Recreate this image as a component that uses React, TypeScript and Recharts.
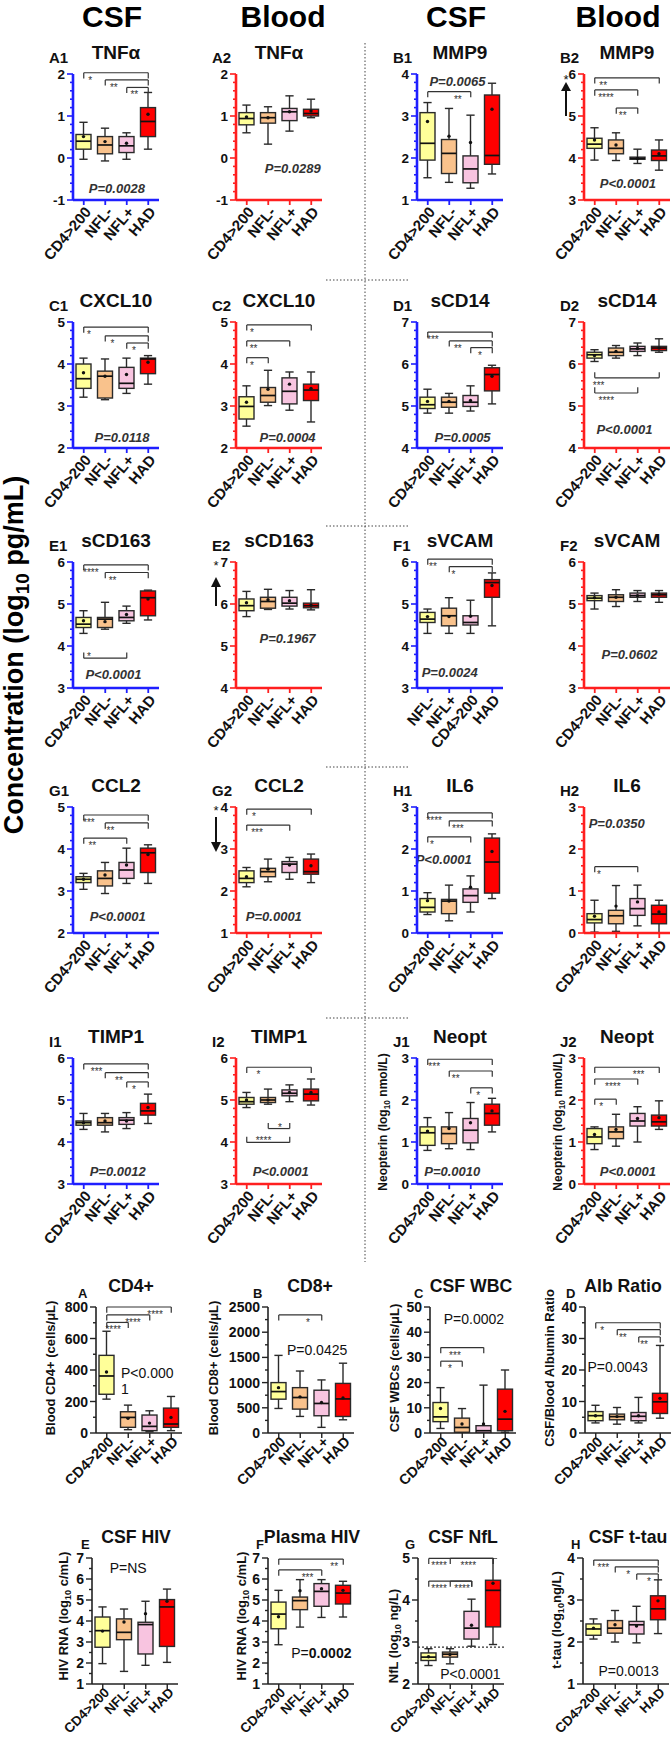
import React from 'react';
import { ComposedChart, Bar, XAxis, YAxis, ReferenceLine } from 'recharts';

const FONT = '"Liberation Sans", Arial, Helvetica, sans-serif';

// ---------- categories ----------
const GROUPS = ['CD4>200', 'NFL-', 'NFL+', 'HAD'];
const GROUPS_SVCAM_CSF = ['NFL-', 'NFL+', 'CD4>200', 'HAD'];
const FILLS = ['#ffff99', '#f9c28c', '#f8c4e0', '#ff0000'];
const BLUE = '#1f1fff';
const RED = '#ff1f1f';

// ---------- tick labels ----------
const T_M1_2 = [-1, 0, 1, 2];
const T_1_4 = [1, 2, 3, 4];
const T_2_5 = [2, 3, 4, 5];
const T_3_6 = [3, 4, 5, 6];
const T_4_7 = [4, 5, 6, 7];
const T_0_3 = [0, 1, 2, 3];
const T_CD4 = [0, 200, 400, 600, 800];
const T_CD8 = [0, 500, 1000, 1500, 2000, 2500];
const T_WBC = [0, 10, 20, 30, 40, 50];
const T_ALB = [0, 10, 20, 30, 40];
const T_1_7 = [1, 2, 3, 4, 5, 6, 7];

// ---------- box stats: [min, q1, median, q3, max, mean] per group ----------
const TNFA_CSF = [[-0.03, 0.21, 0.4, 0.56, 0.85, 0.51], [-0.07, 0.1, 0.31, 0.51, 0.71, 0.39], [-0.03, 0.13, 0.29, 0.51, 0.6, 0.35], [0.21, 0.51, 0.87, 1.2, 1.56, 1.04]];
const TNFA_BLD = [[0.6, 0.79, 0.94, 1.08, 1.26, 0.98], [0.33, 0.83, 0.96, 1.08, 1.22, 0.96], [0.64, 0.89, 1.1, 1.18, 1.48, 1.1], [0.96, 1.0, 1.06, 1.16, 1.4, 1.12]];
const MMP9_CSF = [[1.53, 1.95, 2.35, 3.08, 3.32, 2.87], [1.42, 1.63, 2.11, 2.44, 3.18, 2.52], [1.28, 1.41, 1.74, 2.05, 3.02, 2.37], [1.62, 1.85, 2.06, 3.5, 3.78, 3.16]];
const MMP9_BLD = [[3.95, 4.23, 4.33, 4.47, 4.72, 4.43], [3.94, 4.1, 4.23, 4.43, 4.6, 4.31], [3.87, 3.97, 3.99, 4.02, 4.21, 3.99], [3.71, 3.94, 4.05, 4.19, 4.43, 4.1]];
const CXCL10_CSF = [[3.21, 3.42, 3.65, 4.0, 4.14, 3.79], [3.15, 3.19, 3.71, 3.83, 4.12, 3.71], [3.3, 3.42, 3.54, 3.92, 4.14, 3.75], [3.52, 3.77, 4.12, 4.14, 4.2, 4.04]];
const CXCL10_BLD = [[2.52, 2.69, 2.99, 3.22, 3.48, 3.09], [3.01, 3.09, 3.25, 3.44, 3.85, 3.4], [2.9, 3.05, 3.35, 3.67, 3.81, 3.52], [2.62, 3.13, 3.38, 3.52, 3.81, 3.42]];
const SCD14_CSF = [[4.83, 4.94, 5.03, 5.21, 5.4, 5.11], [4.83, 4.97, 5.09, 5.21, 5.3, 5.11], [4.88, 4.99, 5.09, 5.25, 5.48, 5.13], [5.05, 5.36, 5.75, 5.91, 5.97, 5.71]];
const SCD14_BLD = [[6.06, 6.14, 6.22, 6.28, 6.34, 6.2], [6.14, 6.2, 6.28, 6.38, 6.44, 6.3], [6.2, 6.3, 6.36, 6.42, 6.5, 6.37], [6.28, 6.32, 6.38, 6.42, 6.6, 6.38]];
const SCD163_CSF = [[4.3, 4.44, 4.52, 4.68, 4.84, 4.6], [4.4, 4.44, 4.64, 4.68, 5.04, 4.58], [4.54, 4.6, 4.68, 4.84, 4.95, 4.75], [4.62, 4.72, 5.15, 5.31, 5.33, 5.12]];
const SCD163_BLD = [[5.7, 5.84, 5.96, 6.12, 6.3, 6.03], [5.87, 5.9, 6.06, 6.16, 6.35, 6.1], [5.88, 5.95, 6.02, 6.16, 6.32, 6.08], [5.86, 5.91, 5.96, 6.02, 6.34, 5.97]];
const SVCAM_CSF = [[4.3, 4.56, 4.64, 4.8, 4.88, 4.7], [4.3, 4.48, 4.72, 4.9, 5.15, 4.7], [4.3, 4.5, 4.56, 4.72, 5.09, 4.71], [4.48, 5.16, 5.51, 5.58, 5.74, 5.44]];
const SVCAM_BLD = [[4.88, 5.08, 5.14, 5.2, 5.26, 5.15], [4.94, 5.06, 5.16, 5.22, 5.34, 5.16], [5.06, 5.16, 5.2, 5.26, 5.32, 5.2], [5.04, 5.16, 5.22, 5.26, 5.32, 5.23]];
const CCL2_CSF = [[3.04, 3.2, 3.28, 3.34, 3.42, 3.28], [2.94, 3.12, 3.3, 3.48, 3.68, 3.38], [3.18, 3.3, 3.5, 3.68, 4.02, 3.62], [3.18, 3.44, 3.91, 4.02, 4.1, 3.87]];
const CCL2_BLD = [[2.1, 2.2, 2.3, 2.48, 2.56, 2.34], [2.22, 2.34, 2.46, 2.54, 2.76, 2.52], [2.28, 2.44, 2.64, 2.7, 2.8, 2.62], [2.2, 2.4, 2.46, 2.76, 2.88, 2.6]];
const IL6_CSF = [[0.44, 0.5, 0.61, 0.82, 0.96, 0.77], [0.29, 0.46, 0.76, 0.8, 1.14, 0.76], [0.5, 0.73, 0.89, 1.05, 1.36, 1.09], [0.82, 0.95, 1.69, 2.26, 2.36, 1.94]];
const IL6_BLD = [[0.02, 0.24, 0.32, 0.46, 0.78, 0.4], [0.04, 0.22, 0.41, 0.54, 1.13, 0.64], [0.17, 0.42, 0.58, 0.82, 1.14, 0.74], [0.0, 0.22, 0.45, 0.66, 0.78, 0.5]];
const TIMP1_CSF = [[4.3, 4.4, 4.46, 4.5, 4.68, 4.46], [4.24, 4.4, 4.46, 4.58, 4.68, 4.5], [4.32, 4.42, 4.52, 4.58, 4.7, 4.5], [4.44, 4.64, 4.74, 4.92, 5.14, 4.82]];
const TIMP1_BLD = [[4.82, 4.9, 4.96, 5.06, 5.18, 5.0], [4.9, 4.94, 5.0, 5.06, 5.26, 5.0], [4.96, 5.1, 5.16, 5.24, 5.36, 5.18], [4.88, 4.98, 5.14, 5.26, 5.5, 5.18]];
const NEOPT_CSF = [[0.8, 0.92, 1.22, 1.36, 1.58, 1.26], [0.84, 0.96, 1.2, 1.36, 1.7, 1.32], [0.82, 0.98, 1.28, 1.56, 1.94, 1.46], [1.24, 1.4, 1.68, 1.9, 2.04, 1.74]];
const NEOPT_BLD = [[0.82, 0.96, 1.12, 1.32, 1.36, 1.18], [0.9, 1.08, 1.24, 1.36, 1.66, 1.3], [1.0, 1.38, 1.5, 1.68, 1.84, 1.56], [1.3, 1.38, 1.48, 1.64, 1.98, 1.58]];
const CD4_COUNT = [[215, 246, 362, 493, 646, 387], [21, 36, 99, 135, 177, 93], [8, 15, 42, 114, 141, 63], [15, 36, 57, 158, 232, 99]];
const CD8_COUNT = [[487, 671, 822, 1000, 1540, 900], [329, 474, 704, 900, 1230, 717], [112, 342, 586, 849, 1053, 605], [262, 328, 676, 984, 1385, 696]];
const CSF_WBC = [[1.8, 4.5, 6.4, 12.1, 18, 9.7], [0, 0.3, 2.2, 5.9, 9.7, 3.6], [0, 0, 0.9, 2.9, 19, 3.6], [0.3, 0.9, 5.5, 17.4, 25, 8.6]];
const ALB_RATIO = [[3.2, 3.9, 5.5, 6.8, 8.8, 5.5], [2.8, 4.2, 5.2, 6.0, 8.1, 5.2], [3.2, 3.9, 5.3, 6.5, 11.3, 5.5], [4.7, 6.2, 9.9, 12.6, 27.8, 11.0]];
const CSF_HIV = [[1.97, 2.75, 3.54, 4.19, 4.67, 3.52], [1.6, 3.11, 3.46, 4.1, 4.57, 3.95], [1.89, 2.43, 3.83, 3.94, 4.94, 4.35], [2.03, 2.79, 4.67, 5.02, 5.52, 4.94]];
const PLASMA_HIV = [[2.87, 3.63, 4.33, 4.9, 5.46, 4.2], [3.71, 4.54, 4.97, 5.14, 5.97, 5.44], [4.17, 4.7, 5.41, 5.78, 5.97, 5.54], [4.19, 4.81, 5.33, 5.7, 5.89, 5.46]];
const CSF_NFL = [[2.44, 2.56, 2.64, 2.74, 2.84, 2.65], [2.48, 2.64, 2.71, 2.76, 2.84, 2.7], [2.9, 3.07, 3.33, 3.73, 4.02, 3.4], [2.94, 3.36, 4.23, 4.47, 5.0, 4.4]];
const CSF_TTAU = [[2.07, 2.16, 2.31, 2.43, 2.55, 2.33], [2.0, 2.21, 2.33, 2.51, 2.75, 2.41], [1.98, 2.19, 2.41, 2.49, 2.85, 2.38], [2.2, 2.53, 2.79, 3.1, 3.48, 2.98]];

// ---------- significance brackets: [fromGroup, toGroup, y, stars, labelFrac, tickDir(1 down,-1 up), labelDy] ----------
type Sig = [number, number, number, string, number, number?, number?];
const SIG_A1: Sig[] = [[0, 3, 2.03, '*', 0.1], [1, 3, 1.86, '**', 0.2], [2, 3, 1.68, '**', 0.35]];
const SIG_B1: Sig[] = [[0, 2, 3.58, '**', 0.7]];
const SIG_B2: Sig[] = [[0, 3, 5.91, '**', 0.13], [0, 2, 5.62, '****', 0.26], [1, 2, 5.19, '**', 0.3]];
const SIG_C1: Sig[] = [[0, 3, 4.88, '*', 0.08], [1, 3, 4.67, '*', 0.17], [2, 3, 4.5, '*', 0.34]];
const SIG_C2: Sig[] = [[0, 3, 4.93, '*', 0.08], [0, 2, 4.55, '**', 0.16], [0, 1, 4.15, '*', 0.24]];
const SIG_D1: Sig[] = [[0, 3, 6.76, '***', 0.08], [1, 3, 6.55, '**', 0.2], [2, 3, 6.39, '*', 0.43]];
const SIG_D2: Sig[] = [[0, 3, 5.67, '***', 0.06, -1], [0, 2, 5.31, '****', 0.27, -1]];
const SIG_E1: Sig[] = [[0, 3, 5.93, '****', 0.11], [1, 3, 5.75, '**', 0.17], [0, 2, 3.71, '*', 0.12, -1, 2]];
const SIG_F1: Sig[] = [[0, 3, 6.07, '**', 0.08], [1, 3, 5.89, '*', 0.1]];
const SIG_G1: Sig[] = [[0, 3, 4.81, '***', 0.08], [1, 3, 4.62, '**', 0.12], [0, 2, 4.26, '**', 0.2]];
const SIG_G2: Sig[] = [[0, 3, 3.95, '*', 0.11], [0, 2, 3.57, '***', 0.24]];
const SIG_H1: Sig[] = [[0, 3, 2.86, '****', 0.1], [1, 3, 2.67, '***', 0.2], [0, 2, 2.29, '*', 0.1]];
const SIG_H2: Sig[] = [[0, 2, 1.58, '*', 0.1]];
const SIG_I1: Sig[] = [[0, 3, 5.86, '***', 0.2], [1, 3, 5.65, '**', 0.32], [2, 3, 5.43, '*', 0.34]];
const SIG_I2: Sig[] = [[0, 3, 5.78, '*', 0.18], [1, 2, 4.32, '*', 0.55, -1, 2], [0, 2, 3.99, '****', 0.39, -1, 2]];
const SIG_J1: Sig[] = [[0, 3, 2.97, '***', 0.1], [1, 3, 2.69, '**', 0.15], [2, 3, 2.29, '*', 0.35]];
const SIG_J2: Sig[] = [[0, 3, 2.78, '***', 0.68], [0, 2, 2.5, '****', 0.42], [0, 1, 2.02, '*', 0.3]];
const SIG_CD4: Sig[] = [[0, 3, 800, '****', 0.75], [0, 2, 750, '****', 0.61], [0, 1, 702, '****', 0.3]];
const SIG_CD8: Sig[] = [[0, 2, 2343, '*', 0.68]];
const SIG_WBC: Sig[] = [[0, 2, 33.9, '***', 0.33], [0, 1, 28.5, '*', 0.43]];
const SIG_ALB: Sig[] = [[0, 3, 35, '*', 0.1], [1, 3, 32.8, '**', 0.13], [2, 3, 30.5, '**', 0.25]];
const SIG_PHIV: Sig[] = [[0, 3, 6.95, '**', 0.86], [0, 2, 6.43, '***', 0.67]];
const SIG_NFL: Sig[] = [[0, 3, 4.99, '****', 0.16], [1, 3, 4.99, '****', 0.42], [0, 2, 4.45, '****', 0.24], [1, 2, 4.45, '****', 0.55]];
const SIG_TTAU: Sig[] = [[0, 3, 3.95, '***', 0.15], [1, 3, 3.79, '*', 0.3], [2, 3, 3.62, '*', 0.57]];

type PT = { text: string; y: number; fx: number; kind?: 'it' | 'plain' | 'boldTail' | 'twoLine'; anchor?: 'start' | 'middle'; second?: string; tail?: string };

type Panel = {
  key: string; letter: string; title: string; ax: number; top: number;
  domain: [number, number]; majors: number[]; minor: number; color: string; black?: boolean; catFont?: number;
  cats: string[]; stats: number[][]; sigs: Sig[]; p?: PT; yTitle?: React.ReactNode; yTitlePos?: [number, number];
  dotted?: number; titleDx?: number; letterDx?: number;
};

const Sub = ({ c }: { c: string }) => <span style={{ fontSize: '0.7em', position: 'relative', top: '0.3em' }}>{c}</span>;

const R1 = 74, R2 = 322, R3 = 562, R4 = 807, R5 = 1058, R6 = 1307, R7 = 1558;
const C = [73, 236, 417, 584];

const PANELS: Panel[] = [
  { key: 'A1', letter: 'A1', title: 'TNFα', ax: C[0], top: R1, domain: [-1, 2], majors: T_M1_2, minor: 0.2, color: BLUE, cats: GROUPS, stats: TNFA_CSF, sigs: SIG_A1, p: { text: 'P=0.0028', y: -0.71, fx: 0.51 } },
  { key: 'A2', letter: 'A2', title: 'TNFα', ax: C[1], top: R1, domain: [-1, 2], majors: T_M1_2, minor: 0.2, color: RED, cats: GROUPS, stats: TNFA_BLD, sigs: [], p: { text: 'P=0.0289', y: -0.24, fx: 0.66 } },
  { key: 'B1', letter: 'B1', title: 'MMP9', ax: C[2], top: R1, domain: [1, 4], majors: T_1_4, minor: 0.2, color: BLUE, cats: GROUPS, stats: MMP9_CSF, sigs: SIG_B1, p: { text: 'P=0.0065', y: 3.82, fx: 0.47 } },
  { key: 'B2', letter: 'B2', title: 'MMP9', ax: C[3], top: R1, domain: [3, 6], majors: T_3_6, minor: 0.2, color: RED, cats: GROUPS, stats: MMP9_BLD, sigs: SIG_B2, p: { text: 'P<0.0001', y: 3.4, fx: 0.51 } },

  { key: 'C1', letter: 'C1', title: 'CXCL10', ax: C[0], top: R2, domain: [2, 5], majors: T_2_5, minor: 0.2, color: BLUE, cats: GROUPS, stats: CXCL10_CSF, sigs: SIG_C1, p: { text: 'P=0.0118', y: 2.26, fx: 0.57 } },
  { key: 'C2', letter: 'C2', title: 'CXCL10', ax: C[1], top: R2, domain: [2, 5], majors: T_2_5, minor: 0.2, color: RED, cats: GROUPS, stats: CXCL10_BLD, sigs: SIG_C2, p: { text: 'P=0.0004', y: 2.26, fx: 0.6 } },
  { key: 'D1', letter: 'D1', title: 'sCD14', ax: C[2], top: R2, domain: [4, 7], majors: T_4_7, minor: 0.2, color: BLUE, cats: GROUPS, stats: SCD14_CSF, sigs: SIG_D1, p: { text: 'P=0.0005', y: 4.26, fx: 0.53 } },
  { key: 'D2', letter: 'D2', title: 'sCD14', ax: C[3], top: R2, domain: [4, 7], majors: T_4_7, minor: 0.2, color: RED, cats: GROUPS, stats: SCD14_BLD, sigs: SIG_D2, p: { text: 'P<0.0001', y: 4.45, fx: 0.47 } },

  { key: 'E1', letter: 'E1', title: 'sCD163', ax: C[0], top: R3, domain: [3, 6], majors: T_3_6, minor: 0.2, color: BLUE, cats: GROUPS, stats: SCD163_CSF, sigs: SIG_E1, p: { text: 'P<0.0001', y: 3.33, fx: 0.47 } },
  { key: 'E2', letter: 'E2', title: 'sCD163', ax: C[1], top: R3, domain: [4, 7], majors: T_4_7, minor: 0.2, color: RED, cats: GROUPS, stats: SCD163_BLD, sigs: [], p: { text: 'P=0.1967', y: 5.19, fx: 0.6 } },
  { key: 'F1', letter: 'F1', title: 'sVCAM', ax: C[2], top: R3, domain: [3, 6], majors: T_3_6, minor: 0.2, color: BLUE, cats: GROUPS_SVCAM_CSF, stats: SVCAM_CSF, sigs: SIG_F1, p: { text: 'P=0.0024', y: 3.38, fx: 0.38 } },
  { key: 'F2', letter: 'F2', title: 'sVCAM', ax: C[3], top: R3, domain: [3, 6], majors: T_3_6, minor: 0.2, color: RED, cats: GROUPS, stats: SVCAM_BLD, sigs: [], p: { text: 'P=0.0602', y: 3.81, fx: 0.53 } },

  { key: 'G1', letter: 'G1', title: 'CCL2', ax: C[0], top: R4, domain: [2, 5], majors: T_2_5, minor: 0.2, color: BLUE, cats: GROUPS, stats: CCL2_CSF, sigs: SIG_G1, p: { text: 'P<0.0001', y: 2.4, fx: 0.52 } },
  { key: 'G2', letter: 'G2', title: 'CCL2', ax: C[1], top: R4, domain: [1, 4], majors: T_1_4, minor: 0.2, color: RED, cats: GROUPS, stats: CCL2_BLD, sigs: SIG_G2, p: { text: 'P=0.0001', y: 1.4, fx: 0.44 } },
  { key: 'H1', letter: 'H1', title: 'IL6', ax: C[2], top: R4, domain: [0, 3], majors: T_0_3, minor: 0.2, color: BLUE, cats: GROUPS, stats: IL6_CSF, sigs: SIG_H1, p: { text: 'P<0.0001', y: 1.76, fx: 0.31 } },
  { key: 'H2', letter: 'H2', title: 'IL6', ax: C[3], top: R4, domain: [0, 3], majors: T_0_3, minor: 0.2, color: RED, cats: GROUPS, stats: IL6_BLD, sigs: SIG_H2, p: { text: 'P=0.0350', y: 2.62, fx: 0.38 } },

  { key: 'I1', letter: 'I1', title: 'TIMP1', ax: C[0], top: R5, domain: [3, 6], majors: T_3_6, minor: 0.2, color: BLUE, cats: GROUPS, stats: TIMP1_CSF, sigs: SIG_I1, p: { text: 'P=0.0012', y: 3.31, fx: 0.52 } },
  { key: 'I2', letter: 'I2', title: 'TIMP1', ax: C[1], top: R5, domain: [3, 6], majors: T_3_6, minor: 0.2, color: RED, cats: GROUPS, stats: TIMP1_BLD, sigs: SIG_I2, p: { text: 'P<0.0001', y: 3.31, fx: 0.52 } },
  { key: 'J1', letter: 'J1', title: 'Neopt', ax: C[2], top: R5, domain: [0, 3], majors: T_0_3, minor: 0.2, color: BLUE, cats: GROUPS, stats: NEOPT_CSF, sigs: SIG_J1, p: { text: 'P=0.0010', y: 0.31, fx: 0.41 },
    yTitle: <>Neopterin (log<Sub c="10" /> nmol/L)</>, yTitlePos: [383, 1122] },
  { key: 'J2', letter: 'J2', title: 'Neopt', ax: C[3], top: R5, domain: [0, 3], majors: T_0_3, minor: 0.2, color: RED, cats: GROUPS, stats: NEOPT_BLD, sigs: SIG_J2, p: { text: 'P<0.0001', y: 0.31, fx: 0.51 },
    yTitle: <>Neopterin (log<Sub c="10" /> nmol/L)</>, yTitlePos: [558, 1122] },

  { key: 'A', letter: 'A', title: 'CD4+', ax: 96, top: R6, domain: [0, 800], majors: T_CD4, minor: 100, color: '#222', black: true, catFont: 14.5, cats: GROUPS, stats: CD4_COUNT, sigs: SIG_CD4,
    p: { text: 'P<0.000', second: '1', y: 384, fx: 0.29, kind: 'twoLine', anchor: 'start' }, yTitle: <>Blood CD4+ (cells/μL)</>, yTitlePos: [50, 1368], titleDx: 35, letterDx: -18 },
  { key: 'B', letter: 'B', title: 'CD8+', ax: 268, top: R6, domain: [0, 2500], majors: T_CD8, minor: 250, color: '#222', black: true, catFont: 14.5, cats: GROUPS, stats: CD8_COUNT, sigs: SIG_CD8,
    p: { text: 'P=0.0425', y: 1654, fx: 0.22, kind: 'plain', anchor: 'start' }, yTitle: <>Blood CD8+ (cells/μL)</>, yTitlePos: [213, 1368], titleDx: 42, letterDx: -15 },
  { key: 'C', letter: 'C', title: 'CSF WBC', ax: 430, top: R6, domain: [0, 50], majors: T_WBC, minor: 5, color: '#222', black: true, catFont: 14.5, cats: GROUPS, stats: CSF_WBC, sigs: SIG_WBC,
    p: { text: 'P=0.0002', y: 45.3, fx: 0.51, kind: 'plain' }, yTitle: <>CSF WBCs (cells/μL)</>, yTitlePos: [394, 1368], titleDx: 41, letterDx: -16 },
  { key: 'D', letter: 'D', title: 'Alb Ratio', ax: 585, top: R6, domain: [0, 40], majors: T_ALB, minor: 5, color: '#222', black: true, catFont: 14.5, cats: GROUPS, stats: ALB_RATIO, sigs: SIG_ALB,
    p: { text: 'P=0.0043', y: 21.1, fx: 0.38, kind: 'plain' }, yTitle: <>CSF/Blood Albumin Ratio</>, yTitlePos: [549, 1368], titleDx: 38, letterDx: -19 },

  { key: 'E', letter: 'E', title: 'CSF HIV', ax: 92, top: R7, domain: [1, 7], majors: T_1_7, minor: 0.5, color: '#222', black: true, catFont: 13.5, cats: GROUPS, stats: CSF_HIV, sigs: [],
    p: { text: 'P=NS', y: 6.52, fx: 0.42, kind: 'plain' }, yTitle: <>HIV RNA (log<Sub c="10" /> c/mL)</>, yTitlePos: [64, 1616], titleDx: 44, letterDx: -11 },
  { key: 'F', letter: 'F', title: 'Plasma HIV', ax: 268, top: R7, domain: [1, 7], majors: T_1_7, minor: 0.5, color: '#222', black: true, catFont: 13.5, cats: GROUPS, stats: PLASMA_HIV, sigs: SIG_PHIV,
    p: { text: 'P=', tail: '0.0002', y: 2.48, fx: 0.62, kind: 'boldTail' }, yTitle: <>HIV RNA (log<Sub c="10" /> c/mL)</>, yTitlePos: [242, 1616], titleDx: 44, letterDx: -12 },
  { key: 'G', letter: 'G', title: 'CSF NfL', ax: 418, top: R7, domain: [2, 5], majors: T_2_5, minor: 0.5, color: '#222', black: true, catFont: 13.5, cats: GROUPS, stats: CSF_NFL, sigs: SIG_NFL,
    p: { text: 'P<0.0001', y: 2.23, fx: 0.61, kind: 'plain' }, yTitle: <>NfL (log<Sub c="10" /> ng/L)</>, yTitlePos: [394, 1636], titleDx: 45, letterDx: -13, dotted: 2.88 },
  { key: 'H', letter: 'H', title: 'CSF t-tau', ax: 583, top: R7, domain: [1, 4], majors: T_1_4, minor: 0.5, color: '#222', black: true, catFont: 13.5, cats: GROUPS, stats: CSF_TTAU, sigs: SIG_TTAU,
    p: { text: 'P=0.0013', y: 1.31, fx: 0.53, kind: 'plain' }, yTitle: <>t-tau (log<Sub c="10" />ng/L)</>, yTitlePos: [557, 1620], titleDx: 45, letterDx: -12 },
];

const HEADERS: [string, number][] = [['CSF', 112], ['Blood', 283], ['CSF', 456], ['Blood', 618]];

// ---------- rendering ----------
const PW = 86, PH = 126, ML = 50, MT = 14, MR = 10, XH = 76, YW = 40;

function BoxShape(props: any) {
  const { x, y, width, height, payload } = props;
  if (!payload || x == null) return null;
  const [mn, q1, md, q3, mx, mean] = payload.stats;
  const top = Math.min(y, y + height);
  const h = Math.abs(height);
  const k = h / (mx - mn);
  const py = (v: number) => top + (mx - v) * k;
  const cx = x + width / 2;
  const cap = width * 0.55;
  const st = '#2a2a2a';
  const sw = 1.4;
  return (
    <g>
      <line x1={cx} x2={cx} y1={py(mx)} y2={py(q3)} stroke={st} strokeWidth={sw} />
      <line x1={cx} x2={cx} y1={py(q1)} y2={py(mn)} stroke={st} strokeWidth={sw} />
      <line x1={cx - cap / 2} x2={cx + cap / 2} y1={py(mx)} y2={py(mx)} stroke={st} strokeWidth={sw} />
      <line x1={cx - cap / 2} x2={cx + cap / 2} y1={py(mn)} y2={py(mn)} stroke={st} strokeWidth={sw} />
      <rect x={x} y={py(q3)} width={width} height={Math.max(0.8, py(q1) - py(q3))} fill={payload.fill} stroke={st} strokeWidth={sw} />
      <line x1={x} x2={x + width} y1={py(md)} y2={py(md)} stroke="#111" strokeWidth={1.7} />
      <circle cx={cx} cy={py(mean)} r={1.7} fill="#111" />
    </g>
  );
}

function PanelView({ p }: { p: Panel }) {
  const W = ML + PW + MR, H = MT + PH + XH;
  const rows = p.cats.map((c, i) => ({ cat: c, range: [p.stats[i][0], p.stats[i][4]], stats: p.stats[i], fill: FILLS[i] }));
  const [lo, hi] = p.domain;
  const ticks: number[] = [];
  for (let v = lo; v <= hi + 1e-9; v += p.minor) ticks.push(+v.toFixed(6));
  const axisColor = p.color;
  const aw = p.black ? 1.6 : 2.6;
  const tl = (hi - lo) * 0.045;
  const tickFont = p.black ? 14 : 13.5;
  const starSize = 10;
  const catFont = p.catFont ?? 15;
  const catRot = p.black ? -45 : -50;
  const catDy = p.black ? 6 : 9;

  const yTick = (tp: any) => {
    const v = tp.payload.value;
    const major = p.majors.some((m) => Math.abs(m - v) < 1e-6);
    const len = major ? 6 : 3;
    return (
      <g>
        <line x1={tp.x - len} x2={tp.x} y1={tp.y} y2={tp.y} stroke={axisColor} strokeWidth={p.black ? 1.4 : 1.6} />
        {major && (
          <text x={tp.x - len - 2} y={tp.y} dy="0.36em" textAnchor="end" fontFamily={FONT} fontWeight={700} fontSize={tickFont} fill="#111">
            {v}
          </text>
        )}
      </g>
    );
  };

  const xTick = (tp: any) => {
    const ax = tp.x + 4, ay = tp.y + catDy;
    return (
      <g>
        <line x1={tp.x} x2={tp.x} y1={tp.y} y2={tp.y + 5} stroke={axisColor} strokeWidth={p.black ? 1.4 : 1.8} />
        <text x={ax} y={ay} dy="0.36em" textAnchor="end" transform={`rotate(${catRot} ${ax} ${ay})`} fontFamily={FONT} fontWeight={700} fontSize={catFont} fill="#111">
          {tp.payload.value}
        </text>
      </g>
    );
  };

  const starLabel = (text: string, f: number, dy: number) => (lp: any) => {
    const vb = lp && lp.viewBox;
    if (!vb) return null;
    return (
      <text x={vb.x + f * vb.width} y={vb.y + dy} textAnchor="middle" fontFamily={FONT} fontSize={starSize} fill="#333">
        {text}
      </text>
    );
  };

  const pLabel = (pt: PT) => (lp: any) => {
    const vb = lp && lp.viewBox;
    if (!vb) return null;
    const x = vb.x + pt.fx * vb.width;
    const anchor = pt.anchor || 'middle';
    if (!pt.kind || pt.kind === 'it') {
      return (
        <text x={x} y={vb.y} dy="0.36em" textAnchor={anchor} fontFamily={FONT} fontWeight={700} fontStyle="italic" fontSize={13} fill="#333">
          {pt.text}
        </text>
      );
    }
    if (pt.kind === 'twoLine') {
      return (
        <text x={x} y={vb.y} dy="0.36em" textAnchor={anchor} fontFamily={FONT} fontSize={14} fill="#111">
          <tspan x={x}>{pt.text}</tspan>
          <tspan x={x} dy="1.15em">{pt.second}</tspan>
        </text>
      );
    }
    if (pt.kind === 'boldTail') {
      return (
        <text x={x} y={vb.y} dy="0.36em" textAnchor={anchor} fontFamily={FONT} fontSize={14} fill="#111">
          {pt.text}
          <tspan fontWeight={700}>{pt.tail}</tspan>
        </text>
      );
    }
    return (
      <text x={x} y={vb.y} dy="0.36em" textAnchor={anchor} fontFamily={FONT} fontSize={14} fill="#111">
        {pt.text}
      </text>
    );
  };

  const sigEls: React.ReactNode[] = [];
  p.sigs.forEach((s, i) => {
    const [a, b, yv, stars, f, dirRaw, dyRaw] = s;
    const dir = dirRaw ?? 1;
    const dy = dyRaw ?? 11;
    const ca = p.cats[a], cb = p.cats[b];
    const common = { stroke: '#333', strokeWidth: 1.2, ifOverflow: 'visible' as const };
    sigEls.push(
      <ReferenceLine key={`h${i}`} {...common} segment={[{ x: ca, y: yv }, { x: cb, y: yv }]} label={starLabel(stars, f, dy)} />,
      <ReferenceLine key={`l${i}`} {...common} segment={[{ x: ca, y: yv }, { x: ca, y: yv - dir * tl }]} />,
      <ReferenceLine key={`r${i}`} {...common} segment={[{ x: cb, y: yv }, { x: cb, y: yv - dir * tl }]} />
    );
  });

  const titleDx = p.titleDx ?? 43;
  const letterDx = p.letterDx ?? -24;

  return (
    <>
      <div style={{ position: 'absolute', left: p.ax - ML, top: p.top - MT }}>
        <ComposedChart width={W} height={H} data={rows} margin={{ top: MT, right: MR, bottom: 0, left: ML - YW }}>
          <XAxis dataKey="cat" type="category" interval={0} height={XH} tickSize={0} tickMargin={0} tickLine={false}
            axisLine={{ stroke: axisColor, strokeWidth: aw }} tick={xTick} />
          <YAxis type="number" domain={[lo, hi]} ticks={ticks} interval={0} allowDataOverflow width={YW} tickSize={0} tickMargin={0}
            tickLine={false} axisLine={{ stroke: axisColor, strokeWidth: aw }} tick={yTick} />
          {p.dotted != null && (
            <ReferenceLine y={p.dotted} stroke="#333" strokeWidth={1.2} strokeDasharray="2 2" ifOverflow="visible" />
          )}
          <Bar dataKey="range" barSize={15} isAnimationActive={false} shape={(bp: any) => <BoxShape {...bp} />} />
          {sigEls}
          {p.p && <ReferenceLine y={p.p.y} stroke="none" ifOverflow="visible" label={pLabel(p.p)} />}
        </ComposedChart>
      </div>
      <div style={{ position: 'absolute', left: p.ax + titleDx, top: p.top - 22, transform: `translate(-50%,-50%)${p.black ? ' scaleX(0.93)' : ''}`, fontWeight: 700,
        fontSize: 19, whiteSpace: 'nowrap', lineHeight: 1, color: '#111' }}>
        {p.title}
      </div>
      <div style={{ position: 'absolute', left: p.ax + letterDx, top: p.top - (p.black ? 14 : 17), transform: 'translate(0,-50%)', fontWeight: 700,
        fontSize: p.black ? 13 : 15, whiteSpace: 'nowrap', lineHeight: 1, color: '#111' }}>
        {p.letter}
      </div>
      {p.yTitle && p.yTitlePos && (
        <div style={{ position: 'absolute', left: p.yTitlePos[0], top: p.yTitlePos[1], transform: 'translate(-50%,-50%) rotate(-90deg)', fontWeight: 700,
          fontSize: p.black ? 13 : 12, whiteSpace: 'nowrap', lineHeight: 1, color: '#111' }}>
          {p.yTitle}
        </div>
      )}
    </>
  );
}

function Overlay() {
  const dot = { stroke: '#444', strokeWidth: 1, strokeDasharray: '1.5 2' };
  return (
    <svg width={672} height={1740} style={{ position: 'absolute', left: 0, top: 0 }}>
      <line x1={365} x2={365} y1={43} y2={1262} {...dot} />
      {[280, 526, 767, 1018].map((y) => (
        <line key={y} x1={326} x2={408} y1={y} y2={y} {...dot} />
      ))}
      {/* B2 up arrow */}
      <line x1={566} x2={566} y1={116} y2={90} stroke="#111" strokeWidth={2} />
      <polygon points="561,91 571,91 566,82" fill="#111" />
      <text x={566} y={84} textAnchor="middle" fontFamily={FONT} fontSize={13} fill="#111">*</text>
      {/* E2 up arrow */}
      <line x1={216} x2={216} y1={606} y2={586} stroke="#111" strokeWidth={2} />
      <polygon points="211,587 221,587 216,577" fill="#111" />
      <text x={216} y={570} textAnchor="middle" fontFamily={FONT} fontSize={13} fill="#111">*</text>
      {/* G2 down arrow */}
      <line x1={216} x2={216} y1={817} y2={843} stroke="#111" strokeWidth={2} />
      <polygon points="211,842 221,842 216,852" fill="#111" />
      <text x={216} y={815} textAnchor="middle" fontFamily={FONT} fontSize={13} fill="#111">*</text>
    </svg>
  );
}

export default function App() {
  return (
    <div style={{ position: 'absolute', left: 0, top: 0, width: 672, height: 1740, background: '#fff', fontFamily: FONT, overflow: 'hidden' }}>
      <Overlay />
      {HEADERS.map(([t, x], i) => (
        <div key={i} style={{ position: 'absolute', left: x, top: 17, transform: 'translate(-50%,-50%)', fontWeight: 700, fontSize: 30, lineHeight: 1.15, color: '#000' }}>
          {t}
        </div>
      ))}
      <div style={{ position: 'absolute', left: 15, top: 655, transform: 'translate(-50%,-50%) rotate(-90deg)', fontWeight: 700, fontSize: 27,
        whiteSpace: 'nowrap', lineHeight: 1.1, color: '#000' }}>
        Concentration (log<Sub c="10" /> pg/mL)
      </div>
      {PANELS.map((p) => (
        <PanelView key={p.key} p={p} />
      ))}
    </div>
  );
}
